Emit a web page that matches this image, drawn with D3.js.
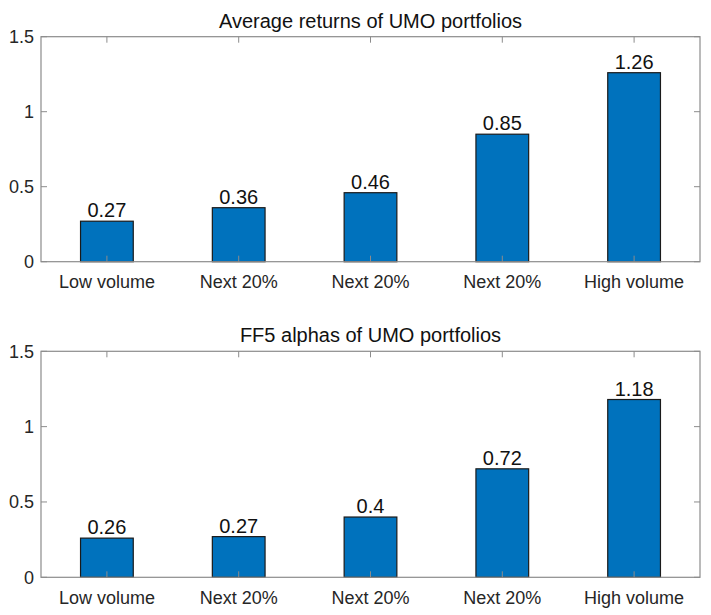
<!DOCTYPE html>
<html>
<head>
<meta charset="utf-8">
<script src="https://cdn.jsdelivr.net/npm/d3@7"></script>
<style>
  body { margin: 0; background: #fff; }
  text { font-family: "Liberation Sans", Arial, sans-serif; fill: #262626; }
</style>
</head>
<body>
<svg id="chart" width="711" height="615"></svg>
<script>
const categories = ['Low volume', 'Next 20%', 'Next 20%', 'Next 20%', 'High volume'];
const avgReturns = [0.27, 0.36, 0.46, 0.85, 1.26];
const ff5Alphas = [0.26, 0.27, 0.4, 0.72, 1.18];
const yTicks = [0, 0.5, 1, 1.5];
const titles = ['Average returns of UMO portfolios', 'FF5 alphas of UMO portfolios'];

const svg = d3.select('#chart');
const left = 41;
const right = 700;
const axisColor = '#8c8c8c';

const x = d3.scaleLinear().domain([0.5, 5.5]).range([left, right]);
const step = x(2) - x(1);
const barWidth = step * 0.4;

const drawPanel = (top, bottom, data, title) => {
  const y = d3.scaleLinear().domain([0, 1.5]).range([bottom, top]);
  const g = svg.append('g');

  g.selectAll('rect.bar')
    .data(data)
    .enter()
    .append('rect')
    .attr('class', 'bar')
    .attr('x', (d, i) => x(i + 1) - barWidth / 2)
    .attr('y', d => y(d))
    .attr('width', barWidth)
    .attr('height', d => y(0) - y(d))
    .style('fill', '#0072BD')
    .style('stroke', '#1a1a1a')
    .style('stroke-width', 1.2);

  // box
  g.append('rect')
    .attr('x', left)
    .attr('y', top)
    .attr('width', right - left)
    .attr('height', bottom - top)
    .style('fill', 'none')
    .style('stroke', axisColor)
    .style('stroke-width', 1.2);

  const tickLen = 6;
  categories.forEach((c, i) => {
    const xp = x(i + 1);
    g.append('line').attr('x1', xp).attr('x2', xp).attr('y1', bottom).attr('y2', bottom - tickLen)
      .style('stroke', axisColor);
    g.append('line').attr('x1', xp).attr('x2', xp).attr('y1', top).attr('y2', top + tickLen)
      .style('stroke', axisColor);
    g.append('text')
      .attr('x', xp)
      .attr('y', bottom + 26.5)
      .attr('text-anchor', 'middle')
      .style('font-size', '18px')
      .text(c);
  });

  yTicks.forEach(t => {
    const yp = y(t);
    g.append('line').attr('x1', left).attr('x2', left + tickLen).attr('y1', yp).attr('y2', yp)
      .style('stroke', axisColor);
    g.append('line').attr('x1', right).attr('x2', right - tickLen).attr('y1', yp).attr('y2', yp)
      .style('stroke', axisColor);
    g.append('text')
      .attr('x', 34)
      .attr('y', yp + 6.5)
      .attr('text-anchor', 'end')
      .style('font-size', '18px')
      .text(t);
  });

  g.selectAll('text.val')
    .data(data)
    .enter()
    .append('text')
    .attr('class', 'val')
    .attr('x', (d, i) => x(i + 1))
    .attr('y', d => y(d) - 4)
    .attr('text-anchor', 'middle')
    .style('font-size', '20px')
    .style('fill', '#111')
    .text(d => d);

  g.append('text')
    .attr('x', (left + right) / 2)
    .attr('y', top - 9)
    .attr('text-anchor', 'middle')
    .style('font-size', '20px')
    .style('fill', '#111')
    .text(title);
};

drawPanel(36.7, 261.7, avgReturns, titles[0]);
drawPanel(351.3, 577.3, ff5Alphas, titles[1]);
</script>
</body>
</html>
